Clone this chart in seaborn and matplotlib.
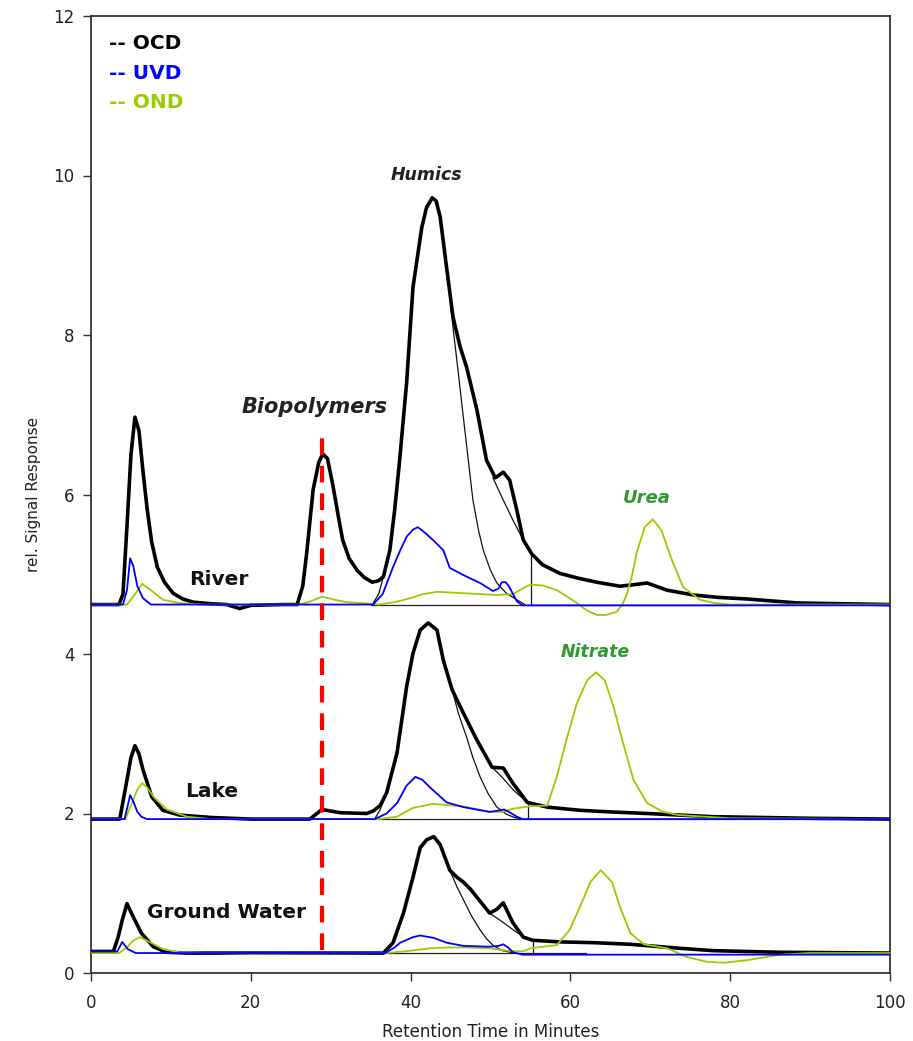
import numpy as np
import pandas as pd
import matplotlib
matplotlib.use("Agg")
import matplotlib.pyplot as plt
import seaborn as sns

# ---------------- data ----------------
# River (offset baseline ~4.62)
river_ocd_x = [0, 3.5, 4.0, 4.5, 5.0, 5.5, 6.0, 6.5, 7.0, 7.6, 8.3, 9.2, 10.3, 11.5, 12.8, 15, 17, 18.6, 20, 24,
               25.8, 26.5, 27.0, 27.8, 28.5, 29.0, 29.6, 30.3, 31.0, 31.5, 32.3, 33.3, 34.2, 35.2, 36.0, 36.6,
               37.4, 38.0, 38.6, 39.5, 40.3, 41.4, 42.0, 42.7, 43.2, 43.7, 44.5, 45.3, 46.2, 47.0, 48.3, 49.5,
               50.6, 51.6, 52.4, 53.3, 54.1, 55.2, 56.5, 58.7, 61, 63.3, 66.2, 68, 69.6, 72.1, 75.4, 78.5, 82.1,
               88.4, 94, 100]
river_ocd_y = [4.62, 4.62, 4.75, 5.6, 6.5, 6.97, 6.8, 6.3, 5.84, 5.4, 5.09, 4.9, 4.76, 4.69, 4.65, 4.63, 4.62, 4.57, 4.61, 4.62,
               4.62, 4.85, 5.27, 6.06, 6.4, 6.51, 6.45, 6.1, 5.7, 5.43, 5.2, 5.05, 4.96, 4.9, 4.92, 4.97,
               5.3, 5.8, 6.4, 7.4, 8.6, 9.35, 9.6, 9.72, 9.68, 9.48, 8.85, 8.23, 7.85, 7.6, 7.06, 6.43,
               6.21, 6.28, 6.18, 5.8, 5.43, 5.25, 5.12, 5.01, 4.95, 4.90, 4.85, 4.87, 4.89, 4.80, 4.74, 4.71, 4.69,
               4.64, 4.63, 4.62]
river_fit1_x = [35.2, 36.0, 36.6, 37.4, 38.0, 38.6, 39.5, 40.3, 41.4, 42.0, 42.7, 43.2, 43.7, 44.5, 45.3, 46.0,
                46.6, 47.2, 47.8, 48.5, 49.1, 50.0, 50.8, 52.0, 53.3, 54.3]
river_fit1_y = [4.62, 4.75, 4.97, 5.3, 5.8, 6.4, 7.4, 8.6, 9.35, 9.6, 9.72, 9.68, 9.48, 8.85, 8.1, 7.5,
                6.97, 6.45, 5.93, 5.55, 5.30, 5.05, 4.89, 4.76, 4.68, 4.62]
river_fit2_x = [50.3, 51.5, 52.8, 54.1]
river_fit2_y = [6.21, 5.95, 5.68, 5.43]
river_cut_x, river_cut_y = [55.1, 55.1], [4.62, 5.26]
river_uvd_x = [0, 4.0, 4.5, 4.9, 5.3, 5.8, 6.5, 7.5, 35.3, 36.5, 37.8, 38.7, 39.5, 40.3, 40.9, 41.8, 42.8,
               44.1, 44.9, 46.6, 48.7, 50.3, 51.0, 51.4, 51.9, 52.3, 53.3, 54.0, 100]
river_uvd_y = [4.62, 4.62, 4.8, 5.2, 5.1, 4.85, 4.7, 4.62, 4.62, 4.75, 5.09, 5.3, 5.47, 5.56, 5.59, 5.52, 5.43,
               5.30, 5.08, 4.99, 4.89, 4.79, 4.82, 4.90, 4.90, 4.85, 4.66, 4.61, 4.61]
river_ond_x = [0, 4.5, 5.5, 6.4, 7.5, 9, 11, 14, 26, 27.5, 28.9, 30.5, 32, 35, 36, 38, 40, 41.5, 43.3, 47.0,
               50.8, 52.8, 54.0, 55.0, 56.5, 58.3, 59.6, 60.8, 62, 63.3, 64.5, 65.8, 66.5, 67.1, 67.7, 68.3,
               69.3, 70.3, 71.4, 72.7, 74.1, 76.2, 78, 80, 100]
river_ond_y = [4.62, 4.62, 4.75, 4.88, 4.80, 4.68, 4.64, 4.62, 4.62, 4.66, 4.72, 4.68, 4.65, 4.63, 4.62, 4.65,
               4.70, 4.75, 4.78, 4.76, 4.74, 4.75, 4.82, 4.87, 4.86, 4.80, 4.72, 4.64, 4.55, 4.49, 4.49, 4.53,
               4.62, 4.76, 4.98, 5.27, 5.59, 5.69, 5.55, 5.18, 4.84, 4.68, 4.64, 4.62, 4.62]

# Lake (offset baseline ~1.93)
lake_ocd_x = [0, 3.6, 4.5, 5.0, 5.5, 6.0, 6.5, 7.6, 9.0, 11.1, 15, 20, 27.4, 28.9, 31.2, 34.5, 35.3, 36.2,
              37.0, 38.3, 39.5, 40.3, 41.2, 42.2, 43.3, 44.1, 45.2, 46.6, 48.3, 50.2, 51.6, 52.8, 54.6, 57.1,
              61.2, 65, 69.6, 77.9, 90, 100]
lake_ocd_y = [1.93, 1.93, 2.42, 2.7, 2.85, 2.75, 2.55, 2.21, 2.04, 1.98, 1.95, 1.93, 1.93, 2.05, 2.01, 2.0, 2.03, 2.1,
              2.26, 2.76, 3.59, 4.01, 4.30, 4.39, 4.30, 3.92, 3.55, 3.26, 2.92, 2.58, 2.57, 2.38, 2.14, 2.08,
              2.04, 2.02, 2.0, 1.96, 1.94, 1.93]
lake_fit1_x = [35.5, 36.2, 37.0, 38.3, 39.5, 40.3, 41.2, 42.2, 43.3, 44.1, 45.2, 46.0, 47.0, 47.8, 48.7, 49.7,
               50.8, 52.0, 53.0, 54.0]
lake_fit1_y = [1.93, 2.05, 2.26, 2.76, 3.59, 4.01, 4.30, 4.39, 4.30, 3.92, 3.55, 3.25, 2.96, 2.70, 2.46, 2.25,
               2.08, 1.99, 1.95, 1.93]
lake_fit2_x = [50.2, 51.5, 52.8, 54.6]
lake_fit2_y = [2.58, 2.45, 2.30, 2.14]
lake_cut_x, lake_cut_y = [54.7, 54.7], [1.93, 2.14]
lake_uvd_x = [0, 4.2, 4.6, 4.9, 5.3, 5.8, 6.3, 7.0, 35.5, 37.0, 38.3, 39.5, 40.6, 41.5, 42.4, 44.5, 46.6, 49.9,
              51.2, 51.7, 52.3, 53.3, 54.0, 100]
lake_uvd_y = [1.93, 1.93, 2.1, 2.23, 2.15, 2.02, 1.96, 1.93, 1.93, 2.0, 2.13, 2.35, 2.46, 2.42, 2.33, 2.14, 2.08, 2.02,
              2.04, 2.05, 2.02, 1.96, 1.93, 1.93]
lake_ond_x = [0, 4.3, 5.2, 5.8, 6.4, 7.0, 7.9, 9.5, 12, 15, 36, 38.3, 40.3, 42.8, 46.6, 49.9, 51.5, 52.8, 54.9,
              57.1, 58.3, 59.6, 60.8, 62.1, 63.2, 64.3, 65.4, 66.6, 67.9, 69.6, 71.6, 73.6, 80, 100]
lake_ond_y = [1.93, 1.93, 2.15, 2.3, 2.38, 2.33, 2.2, 2.05, 1.96, 1.93, 1.93, 1.96, 2.07, 2.12, 2.09, 2.02, 2.02,
              2.06, 2.09, 2.10, 2.46, 2.96, 3.38, 3.67, 3.77, 3.67, 3.34, 2.88, 2.42, 2.13, 2.02, 1.98, 1.94, 1.93]

# Ground water (offset baseline ~0.25)
gw_ocd_x = [0, 2.8, 3.4, 3.9, 4.5, 5.3, 6.3, 7.8, 9.4, 12, 36.6, 37.8, 39.1, 40.3, 41.2, 42.0, 42.9, 43.7, 44.9,
            45.8, 46.6, 47.5, 48.3, 49.9, 50.8, 51.6, 52.8, 54.1, 55.3, 58.7, 63, 67.5, 73.7, 77.9, 86.2, 100]
gw_ocd_y = [0.27, 0.27, 0.45, 0.66, 0.87, 0.70, 0.50, 0.33, 0.26, 0.25, 0.25, 0.38, 0.75, 1.20, 1.57, 1.67, 1.71,
            1.61, 1.29, 1.20, 1.14, 1.05, 0.95, 0.75, 0.80, 0.88, 0.63, 0.45, 0.41, 0.39, 0.38, 0.36, 0.31, 0.28,
            0.26, 0.25]
gw_fit1_x = [36.6, 37.8, 39.1, 40.3, 41.2, 42.0, 42.9, 43.7, 44.9, 45.8, 46.6, 47.6, 48.7, 49.5, 50.4, 51.5, 53.0]
gw_fit1_y = [0.25, 0.38, 0.75, 1.20, 1.57, 1.67, 1.71, 1.61, 1.29, 1.08, 0.92, 0.72, 0.54, 0.43, 0.34, 0.28, 0.25]
gw_fit2_x = [49.9, 51.5, 53.0, 54.5]
gw_fit2_y = [0.75, 0.64, 0.53, 0.43]
gw_cut_x, gw_cut_y = [55.3, 55.3], [0.25, 0.41]
gw_uvd_x = [0, 3.3, 3.9, 4.6, 5.6, 36.8, 38.0, 38.7, 40.3, 41.2, 42.9, 44.5, 46.6, 49.9, 51.0, 51.6, 52.2, 52.8,
            54.0, 100]
gw_uvd_y = [0.27, 0.27, 0.39, 0.30, 0.25, 0.25, 0.32, 0.38, 0.45, 0.47, 0.44, 0.38, 0.34, 0.33, 0.34, 0.36, 0.32,
            0.26, 0.23, 0.23]
gw_ond_x = [0, 3.5, 4.5, 5.2, 6.1, 7.5, 9, 11, 20, 37, 40, 42.5, 44.5, 47, 49.9, 52, 54, 55.0, 58.3, 59.9, 61.2,
            62.5, 63.8, 65.2, 66.2, 67.5, 69.2, 72.1, 74.6, 77.1, 79.3, 82.1, 86.2, 90, 100]
gw_ond_y = [0.25, 0.25, 0.32, 0.40, 0.45, 0.38, 0.30, 0.26, 0.24, 0.25, 0.28, 0.31, 0.32, 0.32, 0.31, 0.28, 0.27,
            0.31, 0.35, 0.54, 0.83, 1.14, 1.29, 1.14, 0.83, 0.50, 0.36, 0.31, 0.20, 0.14, 0.13, 0.16, 0.23, 0.25,
            0.25]

# baselines drawn under the humic fits: (x_start, x_end, level)
baselines = [(35.0, 82.0, 4.62), (35.0, 93.0, 1.93), (36.0, 62.0, 0.245)]

biopolymer_time = 28.9
biopolymer_span = [0.29, 6.78]

sample_labels = ["River", "Lake", "Ground Water"]
sample_label_pos = [(16.0, 4.93), (15.1, 2.27), (17.0, 0.76)]
peak_labels = ["Biopolymers", "Humics", "Urea", "Nitrate"]
peak_label_pos = [(28.0, 7.1), (42.0, 10.0), (69.6, 5.96), (63.1, 4.03)]
legend_labels = ["-- OCD", "-- UVD", "-- OND"]

x_ticks = [0, 20, 40, 60, 80, 100]
y_ticks = [0, 2, 4, 6, 8, 10, 12]

# ---------------- styling ----------------
OCD_C = "#000000"
UVD_C = "#0000ff"
OND_C = "#99cc00"
LBL_GREEN = "#2e9a2e"

sns.set_theme(style="white")
plt.rcParams['font.family'] = ['DejaVu Sans']
plt.rcParams['lines.solid_joinstyle'] = 'round'
plt.rcParams['lines.solid_capstyle'] = 'round'

fig = plt.figure(figsize=(9.13, 10.41), dpi=100)
ax = fig.add_axes([91 / 913, 68 / 1041, (890 - 91) / 913, (973 - 16) / 1041])


def line(x, y, color, lw, z):
    sns.lineplot(x=x, y=y, ax=ax, color=color, linewidth=lw, sort=False, estimator=None, zorder=z)


# baselines
for x0, x1, lvl in baselines:
    ax.plot([x0, x1], [lvl, lvl], color="#222222", lw=0.9, zorder=1)

for fx, fy in [(river_fit1_x, river_fit1_y), (river_fit2_x, river_fit2_y), (river_cut_x, river_cut_y),
               (lake_fit1_x, lake_fit1_y), (lake_fit2_x, lake_fit2_y), (lake_cut_x, lake_cut_y),
               (gw_fit1_x, gw_fit1_y), (gw_fit2_x, gw_fit2_y), (gw_cut_x, gw_cut_y)]:
    line(fx, fy, "#111111", 0.9, 2)

for ox, oy in [(river_ocd_x, river_ocd_y), (lake_ocd_x, lake_ocd_y), (gw_ocd_x, gw_ocd_y)]:
    line(ox, oy, OCD_C, 2.6, 3)
for nx, ny in [(river_ond_x, river_ond_y), (lake_ond_x, lake_ond_y), (gw_ond_x, gw_ond_y)]:
    line(nx, ny, OND_C, 1.3, 4)
for ux, uy in [(river_uvd_x, river_uvd_y), (lake_uvd_x, lake_uvd_y), (gw_uvd_x, gw_uvd_y)]:
    line(ux, uy, UVD_C, 1.3, 5)

# biopolymer marker line
ax.plot([biopolymer_time, biopolymer_time], biopolymer_span, color="#ff0000", lw=3,
        linestyle=(0, (4, 2.6)), solid_capstyle="butt", dash_capstyle="butt", zorder=6)

# texts
for lab, (tx, ty) in zip(sample_labels, sample_label_pos):
    ax.text(tx, ty, lab, fontsize=14.5, fontweight="bold", color="#111111", ha="center", va="center", zorder=7)
peak_sizes = [15, 12.5, 13, 12.5]
peak_colors = ["#222222", "#222222", LBL_GREEN, LBL_GREEN]
for lab, (tx, ty), fs, c in zip(peak_labels, peak_label_pos, peak_sizes, peak_colors):
    ax.text(tx, ty, lab, fontsize=fs, fontweight="bold", fontstyle="italic", color=c,
            ha="center", va="center", zorder=7)
for i, (lab, c) in enumerate(zip(legend_labels, [OCD_C, UVD_C, OND_C])):
    ax.text(2.3, 11.65 - i * 0.37, lab, fontsize=14.5, fontweight="bold", color=c,
            ha="left", va="center", zorder=7)

ax.set_xlim(0, 100)
ax.set_ylim(0, 12)
ax.set_xticks(x_ticks)
ax.set_yticks(y_ticks)
ax.tick_params(axis="both", direction="out", length=6, width=1, color="#333333",
               labelsize=12, labelcolor="#222222", pad=6, bottom=True, left=True)
ax.tick_params(axis="x", pad=9)
for s in ax.spines.values():
    s.set_color("#333333")
    s.set_linewidth(1.3)
ax.set_xlabel("Retention Time in Minutes", fontsize=12, color="#222222", labelpad=8)
ax.set_ylabel("rel. Signal Response", fontsize=11, color="#222222", labelpad=9)

fig.savefig("out.png", dpi=100)
